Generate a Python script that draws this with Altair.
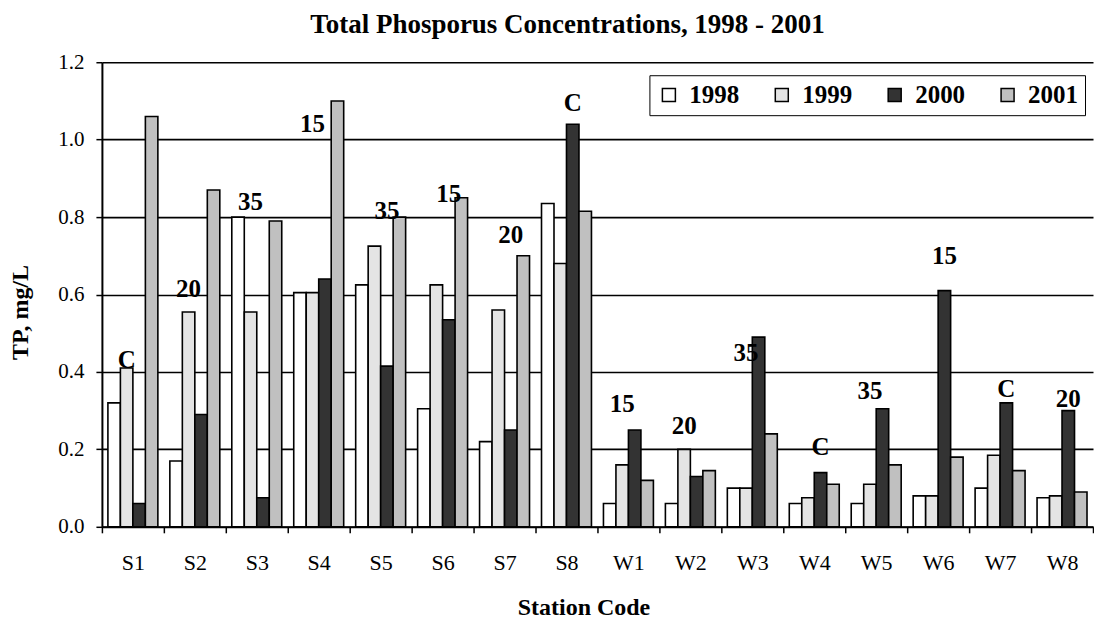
import altair as alt
import pandas as pd

stations = ["S1", "S2", "S3", "S4", "S5", "S6", "S7", "S8",
            "W1", "W2", "W3", "W4", "W5", "W6", "W7", "W8"]
years = ["1998", "1999", "2000", "2001"]

v1998 = [0.32, 0.17, 0.80, 0.605, 0.625, 0.305, 0.22, 0.835,
         0.06, 0.06, 0.10, 0.06, 0.06, 0.08, 0.10, 0.075]
v1999 = [0.41, 0.555, 0.555, 0.605, 0.725, 0.625, 0.56, 0.68,
         0.16, 0.20, 0.10, 0.075, 0.11, 0.08, 0.185, 0.08]
v2000 = [0.06, 0.29, 0.075, 0.64, 0.415, 0.535, 0.25, 1.04,
         0.25, 0.13, 0.49, 0.14, 0.305, 0.61, 0.32, 0.30]
v2001 = [1.06, 0.87, 0.79, 1.10, 0.80, 0.85, 0.70, 0.815,
         0.12, 0.145, 0.24, 0.11, 0.16, 0.18, 0.145, 0.09]

label_text = ["C", "20", "35", "15", "35", "15", "20", "C",
              "15", "20", "35", "C", "35", "15", "C", "20"]
label_year = ["1999", "1999", "1999", "1999", "2000", "2000", "2000", "2000",
              "1999", "1999", "1999", "2000", "1999", "2000", "2000", "2000"]
label_y = [0.43, 0.615, 0.84, 1.04, 0.817, 0.86, 0.753, 1.095,
           0.317, 0.261, 0.449, 0.205, 0.351, 0.699, 0.355, 0.329]

colors = ["#ffffff", "#e4e4e4", "#333333", "#c0c0c0"]

rows = []
for i, s in enumerate(stations):
    for yr, vals in zip(years, [v1998, v1999, v2000, v2001]):
        rows.append({"station": s, "year": yr, "tp": vals[i]})
df = pd.DataFrame(rows)

lab = pd.DataFrame({"station": stations, "year": label_year,
                    "text": label_text, "y": label_y})

FONT = "Liberation Serif"

x_enc = alt.X(
    "station:N", sort=stations,
    scale=alt.Scale(paddingInner=0, paddingOuter=0),
    axis=alt.Axis(
        title="Station Code", tickBand="extent", labelAngle=0,
        labelFont=FONT, labelFontSize=22, labelColor="black", labelPadding=20,
        tickColor="black", tickSize=6, tickWidth=1.5,
        domainColor="black", domainWidth=2,
        titleFont=FONT, titleFontSize=24, titleFontWeight="bold", titleColor="black",
        titlePadding=22, titleX=482,
    ),
)
xoff_enc = alt.XOffset("year:N", sort=years,
                       scale=alt.Scale(paddingOuter=0.48, paddingInner=0))
y_scale = alt.Scale(domain=[0, 1.2])

bars = alt.Chart(df).mark_bar(stroke="black", strokeWidth=1.6).encode(
    x=x_enc,
    xOffset=xoff_enc,
    y=alt.Y(
        "tp:Q", scale=y_scale,
        axis=alt.Axis(
            title="TP, mg/L", values=[0, 0.2, 0.4, 0.6, 0.8, 1.0, 1.2], format=".1f",
            labelFont=FONT, labelFontSize=21, labelColor="black", labelPadding=12,
            tickColor="black", tickSize=6, tickWidth=1.5,
            domainColor="black", domainWidth=2,
            grid=True, gridColor="black", gridWidth=1.6, gridOpacity=1,
            titleFont=FONT, titleFontSize=24, titleFontWeight="bold", titleColor="black",
            titlePadding=25, titleY=250,
        ),
    ),
    color=alt.Color(
        "year:N", sort=years,
        scale=alt.Scale(domain=years, range=colors),
        legend=alt.Legend(
            title=None, orient="none", legendX=548, legendY=13,
            direction="horizontal", symbolType="square", symbolSize=169,
            symbolStrokeColor="black", symbolStrokeWidth=1.5,
            labelFont=FONT, labelFontSize=25, labelFontWeight="bold",
            labelColor="black", labelOffset=8, columnPadding=30,
            padding=7, strokeColor="black", fillColor="white",
        ),
    ),
)

labels = alt.Chart(lab).mark_text(
    font=FONT, fontSize=25, fontWeight="bold", color="black",
    align="center", baseline="middle",
).encode(
    x=alt.X("station:N", sort=stations),
    xOffset=alt.XOffset("year:N", sort=years),
    y=alt.Y("y:Q", scale=y_scale),
    text="text:N",
)

chart = alt.layer(bars, labels).properties(
    width=992, height=465,
    padding={"left": 0, "top": 3, "right": 0, "bottom": 0},
    title=alt.TitleParams(
        "Total Phosporus Concentrations, 1998 - 2001",
        font=FONT, fontSize=27, fontWeight="bold", color="black",
        anchor="middle", dx=-30, offset=12,
    ),
).configure_view(stroke=None)

chart.save("out.html", embed_options={"renderer": "svg", "actions": False})
